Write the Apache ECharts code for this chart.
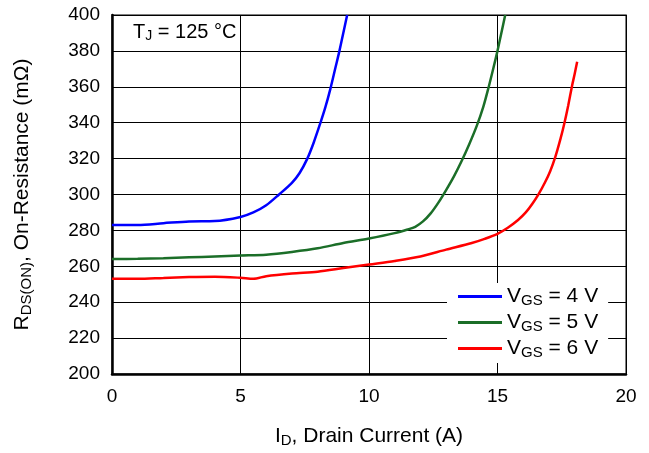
<!DOCTYPE html>
<html><head><meta charset="utf-8">
<script src="https://cdn.jsdelivr.net/npm/echarts@6/dist/echarts.min.js"></script>
<style>html,body{margin:0;padding:0;background:#fff}#c{width:649px;height:453px}</style>
</head><body><div id="c"></div>
<script>
// Data (I_D in A, R_DS(on) in mOhm)
var vgs4 = [[0,283],[1,283],[2,284],[3,285],[4,285.2],[5,287.5],[5.5,290],[6,294],[6.5,300],[7.0,306.5],[7.3,312],[7.6,320],[7.85,329],[8.1,339.5],[8.3,348.5],[8.5,359],[8.7,371],[8.85,380],[9.0,390],[9.15,400]];
var vgs5 = [[0,264],[1,264.2],[2,264.5],[3,265],[4,265.5],[5,266],[6,266.5],[7,268],[8,270],[9,273],[10,275.5],[11,278.5],[11.5,280.5],[11.8,282],[12.1,285],[12.4,289.5],[12.7,295.5],[13.0,302.5],[13.3,310],[13.6,318.5],[13.9,328],[14.2,338.5],[14.45,349],[14.65,359.5],[14.85,371],[15.0,380],[15.15,390],[15.3,400]];
var vgs6 = [[0,253],[1,253],[2,253.5],[3,254],[4,254.2],[5,253.6],[5.5,253],[6,254.5],[7,256],[8,257],[9,259],[10,261],[11,263],[12,265.5],[13,269.3],[14,273],[14.5,275.3],[15,278.1],[15.4,281.5],[15.8,285.8],[16.1,290],[16.35,294.7],[16.6,300.2],[16.85,306.8],[17.05,313],[17.25,321],[17.45,331],[17.6,339.6],[17.75,349.5],[17.9,360.5],[18.0,367],[18.1,374]];
var seriesNames = ['VGS = 4 V','VGS = 5 V','VGS = 6 V'];
var legendTexts = {'VGS = 4 V':'4 V','VGS = 5 V':'5 V','VGS = 6 V':'6 V'};
var colors = ['#0000ff','#1b6e28','#ff0000'];
var xTicks = {min:0,max:20,interval:5};
var yTicks = {min:200,max:400,interval:20};

var FONT = 'Liberation Sans, Arial, sans-serif';
var chart = echarts.init(document.getElementById('c'));
function mk(name, data, color){
  return {name:name,type:'line',data:data,smooth:0.3,showSymbol:false,
    lineStyle:{color:color,width:2.5},itemStyle:{color:color},z:3};
}
function rich(big, small, pad){
  return {a:{fontSize:big,fontFamily:FONT,color:'#000'},s:{fontSize:small,fontFamily:FONT,color:'#000',verticalAlign:'bottom',padding:[pad,0,0,0]}};
}
chart.setOption({
  animation:false,
  grid:{left:112,right:23,top:15,bottom:77,show:true,borderColor:'#555',borderWidth:1.5,backgroundColor:'transparent'},
  xAxis:{type:'value',min:xTicks.min,max:xTicks.max,interval:xTicks.interval,
    axisLine:{show:true,onZero:false,lineStyle:{color:'#000',width:2.5}},
    axisTick:{show:false},
    axisLabel:{color:'#000',fontSize:19,fontFamily:FONT,margin:13},
    splitLine:{show:true,lineStyle:{color:'#000',width:1}},
    name:'{a|I}{s|D}{a|, Drain Current (A)}',nameLocation:'middle',nameGap:50,
    nameTextStyle:{rich:rich(21,15,9)}
  },
  yAxis:{type:'value',min:yTicks.min,max:yTicks.max,interval:yTicks.interval,
    axisLine:{show:true,onZero:false,lineStyle:{color:'#000',width:2.5}},
    axisTick:{show:false},
    axisLabel:{color:'#000',fontSize:19,fontFamily:FONT,margin:12},
    splitLine:{show:true,lineStyle:{color:'#000',width:1}},
    name:'{a|R}{s|DS(ON)}{a|, On-Resistance (m\u03A9)}',nameLocation:'middle',nameGap:78,
    nameTextStyle:{rich:rich(21,15,9)}
  },
  legend:{orient:'vertical',left:447,top:283,backgroundColor:'#fff',padding:[3,10,3,11],
    itemWidth:44,itemHeight:3,itemGap:4,icon:'rect',data:seriesNames,
    formatter:function(n){return '{a|V}{s|GS}{a| = '+legendTexts[n]+'}';},
    textStyle:{rich:rich(21,15,8)}
  },
  graphic:[{type:'text',left:133,top:22,style:{rich:{a:{fontSize:20,fontFamily:FONT,fill:'#000'},s:{fontSize:14,fontFamily:FONT,fill:'#000',verticalAlign:'bottom',padding:[9,0,0,0]}},text:'{a|T}{s|J}{a| = 125 \u00B0C}'}}],
  series:[mk(seriesNames[0],vgs4,colors[0]),mk(seriesNames[1],vgs5,colors[1]),mk(seriesNames[2],vgs6,colors[2])]
});
</script></body></html>
